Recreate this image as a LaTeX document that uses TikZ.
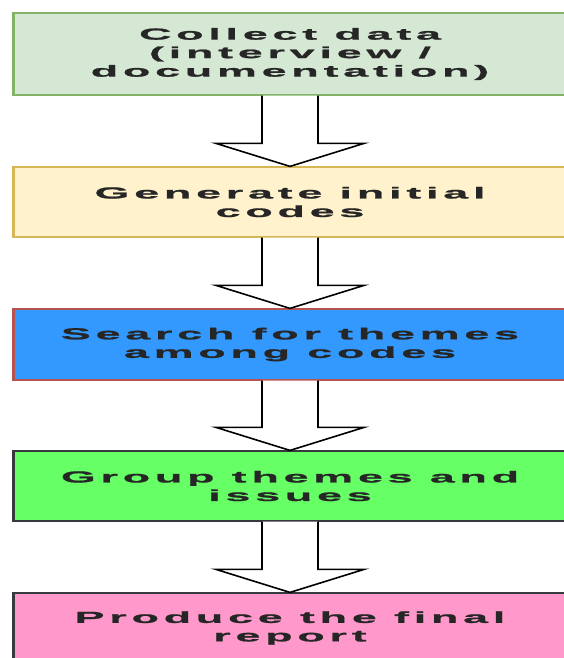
\documentclass[tikz,border=0pt]{standalone}
\usepackage{fontspec}
\usepackage{tikz}
\usetikzlibrary{calc}
\newfontfamily\stepfont[FakeStretch=2.8,LetterSpace=30,FakeBold=1.2]{Liberation Sans Bold}
\definecolor{greenfill}{HTML}{D5E8D4}
\definecolor{greenline}{HTML}{82B366}
\definecolor{yellowfill}{HTML}{FFF2CC}
\definecolor{yellowline}{HTML}{D6B656}
\definecolor{bluefill}{HTML}{3399FF}
\definecolor{redline}{HTML}{B85450}
\definecolor{limefill}{HTML}{66FF66}
\definecolor{darkline}{HTML}{36393D}
\definecolor{pinkfill}{HTML}{FF99CC}

\begin{document}
\begin{tikzpicture}[x=1pt,y=-1pt,
    stage/.style={draw, line width=1.2pt, minimum width=552pt, inner sep=0pt,
        align=center, text=black!85, font=\stepfont\fontsize{16}{18.5}\selectfont},
    flow/.style={draw=black, line width=1.6pt, fill=white}]
        \useasboundingbox (0,0) rectangle (564,658);
        % the five steps
        \node[stage, fill=greenfill, draw=greenline, minimum height=82pt] (collect) at (290,54) {Collect data\\(interview /\\documentation)};
        \node[stage, fill=yellowfill, draw=yellowline, minimum height=70pt] (codes) at (290,202) {Generate initial\\codes};
        \node[stage, fill=bluefill, draw=redline, minimum height=71pt] (search) at (290,344.5) {Search for themes\\among codes};
        \node[stage, fill=limefill, draw=darkline, minimum height=70pt] (group) at (290,486) {Group themes and\\issues};
        \node[stage, fill=pinkfill, draw=darkline, minimum height=70pt] (report) at (290,628) {Produce the final\\report};
        \foreach \n/\c in {collect/greenline, codes/yellowline, search/redline, group/darkline, report/darkline}
            \draw[\c, line width=3pt] (\n.north west) -- (\n.south west);
        % hollow arrows
        \foreach \a/\b in {collect/codes, codes/search, search/group, group/report}
            \draw[flow] ($(\a.south)+(-28,0)$) -- ($(\b.north)+(-28,-23)$) -- ($(\b.north)+(-74,-23)$)
                -- (\b.north) -- ($(\b.north)+(74,-23)$) -- ($(\b.north)+(28,-23)$) -- ($(\a.south)+(28,0)$);
\end{tikzpicture}
\end{document}
